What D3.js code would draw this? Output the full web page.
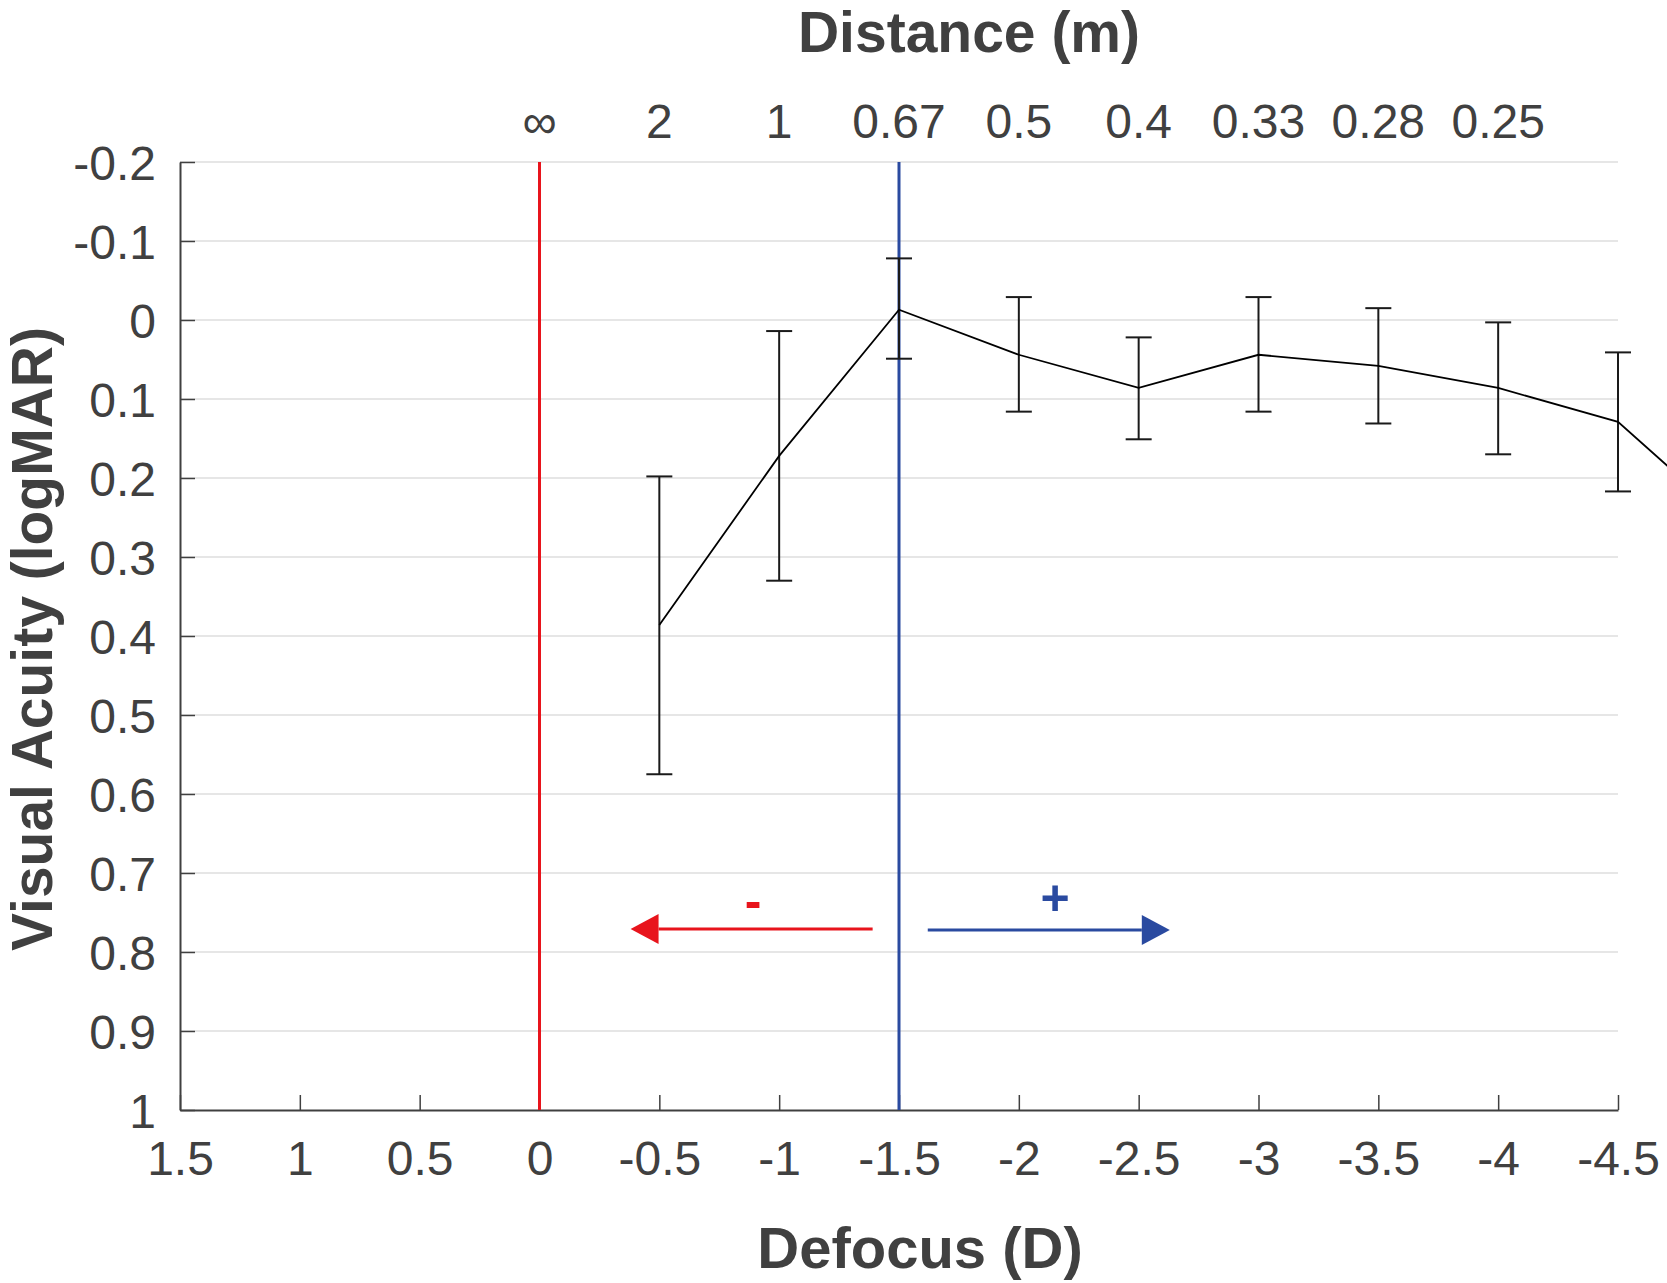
<!DOCTYPE html>
<html>
<head>
<meta charset="utf-8">
<script src="https://cdn.jsdelivr.net/npm/d3@7"></script>
<style>
body { margin: 0; background: #fff; }
text { font-family: "Liberation Sans", Arial, Helvetica, sans-serif; }
</style>
</head>
<body>
<script>
// defocus (D) and mean visual acuity (logMAR) with error bar ends
var defocus = [-0.5, -1, -1.5, -2, -2.5, -3, -3.5, -4, -4.5, -5];
var acuity = [0.386, 0.172, -0.013, 0.044, 0.086, 0.044, 0.058, 0.086, 0.129, 0.264];
var errTop = [0.198, 0.014, -0.078, -0.029, 0.022, -0.029, -0.015, 0.003, 0.041, null];
var errBottom = [0.575, 0.330, 0.049, 0.116, 0.151, 0.116, 0.131, 0.170, 0.217, null];

// top axis: distance in metres above the defocus values
var distDefocus = [0, -0.5, -1, -1.5, -2, -2.5, -3, -3.5, -4];
var distLabels = ["\u221e", "2", "1", "0.67", "0.5", "0.4", "0.33", "0.28", "0.25"];

var xTicks = [1.5, 1, 0.5, 0, -0.5, -1, -1.5, -2, -2.5, -3, -3.5, -4, -4.5];
var yTicks = [-0.2, -0.1, 0, 0.1, 0.2, 0.3, 0.4, 0.5, 0.6, 0.7, 0.8, 0.9, 1];

// arrows: start, tip (defocus), height (logMAR)
var arrowRed = [-1.39, -0.38, 0.771];
var arrowBlue = [-1.62, -2.63, 0.772];

var W = 1667, H = 1283;
var txt = "#404040", red = "#e8141c", blue = "#2a4aa0";

var svg = d3.select("body").append("svg")
	.attr("width", W)
	.attr("height", H);

var x = d3.scaleLinear().domain([1.5, -4.5]).range([180, 1618]);
var y = d3.scaleLinear().domain([-0.2, 1]).range([162, 1110]);

//grid
svg.append("g").selectAll("line")
	.data(yTicks.slice(0, -1))
	.enter().append("line")
	.attr("x1", x(1.5)).attr("x2", x(-4.5))
	.attr("y1", function(d){ return y(d); })
	.attr("y2", function(d){ return y(d); })
	.style("stroke", "#e6e6e6")
	.style("stroke-width", 2);

//axes (plain hyphen as minus sign, like the original)
var fmt = function(d){ return String(+d.toFixed(1)); };
var yAxis = svg.append("g").attr("transform", "translate(" + x(1.5) + ",0)")
	.call(d3.axisLeft(y).tickValues(yTicks).tickFormat(fmt)
		.tickSizeInner(-15).tickSizeOuter(0).tickPadding(24));
var xAxis = svg.append("g").attr("transform", "translate(0," + y(1) + ")")
	.call(d3.axisBottom(x).tickValues(xTicks).tickFormat(fmt)
		.tickSizeInner(-15).tickSizeOuter(0).tickPadding(31));
[yAxis, xAxis].forEach(function(a){
	a.select(".domain").style("stroke", txt).style("stroke-width", 2);
	a.selectAll(".tick line").style("stroke", txt).style("stroke-width", 1.5);
	a.selectAll(".tick text").style("font-size", "48px").style("fill", txt);
});
yAxis.selectAll(".tick text").attr("dy", "0.36em");

//vertical reference lines
svg.append("line")
	.attr("x1", x(0)).attr("x2", x(0))
	.attr("y1", y(-0.2)).attr("y2", y(1))
	.style("stroke", red).style("stroke-width", 3);
svg.append("line")
	.attr("x1", x(-1.5)).attr("x2", x(-1.5))
	.attr("y1", y(-0.2)).attr("y2", y(1))
	.style("stroke", blue).style("stroke-width", 3);

//error bars
var bars = svg.append("g");
defocus.forEach(function(d, i){
	if (errTop[i] === null) return;
	var cx = x(d), y1 = y(errTop[i]), y2 = y(errBottom[i]);
	bars.append("line").attr("x1", cx).attr("x2", cx).attr("y1", y1).attr("y2", y2);
	bars.append("line").attr("x1", cx - 13).attr("x2", cx + 13).attr("y1", y1).attr("y2", y1);
	bars.append("line").attr("x1", cx - 13).attr("x2", cx + 13).attr("y1", y2).attr("y2", y2);
});
bars.selectAll("line").style("stroke", "#1a1a1a").style("stroke-width", 2);

//mean line
var linia = d3.line()
	.x(function(d, i){ return x(defocus[i]); })
	.y(function(d){ return y(d); });
svg.append("path")
	.attr("d", linia(acuity))
	.style("fill", "none")
	.style("stroke", "#000")
	.style("stroke-width", 1.8);

//arrows
function strzalka(a, kolor)
{
	var x0 = x(a[0]), x1 = x(a[1]), yy = y(a[2]);
	var kier = x1 > x0 ? 1 : -1;
	var podstawa = x1 - kier * 28;
	svg.append("line")
		.attr("x1", x0).attr("x2", podstawa)
		.attr("y1", yy).attr("y2", yy)
		.style("stroke", kolor).style("stroke-width", 3);
	svg.append("path")
		.attr("d", "M" + x1 + "," + yy + "L" + podstawa + "," + (yy - 15) + "L" + podstawa + "," + (yy + 15) + "Z")
		.style("fill", kolor);
}
strzalka(arrowRed, red);
strzalka(arrowBlue, blue);

svg.append("text")
	.attr("x", 753).attr("y", 918)
	.attr("text-anchor", "middle")
	.style("font-size", "50px").style("font-weight", "bold").style("fill", red)
	.text("-");
svg.append("text")
	.attr("x", 1055).attr("y", 915)
	.attr("text-anchor", "middle")
	.style("font-size", "50px").style("font-weight", "bold").style("fill", blue)
	.text("+");

//top distance labels
svg.append("g").selectAll("text")
	.data(distLabels)
	.enter().append("text")
	.attr("x", function(d, i){ return x(distDefocus[i]); })
	.attr("y", 138)
	.attr("text-anchor", "middle")
	.style("font-size", "48px").style("fill", txt)
	.text(function(d){ return d; });

//titles
svg.append("text")
	.attr("x", 969).attr("y", 52)
	.attr("text-anchor", "middle")
	.style("font-size", "57px").style("font-weight", "bold").style("fill", txt)
	.text("Distance (m)");
svg.append("text")
	.attr("x", 920).attr("y", 1268)
	.attr("text-anchor", "middle")
	.style("font-size", "58px").style("font-weight", "bold").style("fill", txt)
	.text("Defocus (D)");
svg.append("text")
	.attr("transform", "translate(52,639) rotate(-90)")
	.attr("text-anchor", "middle")
	.style("font-size", "57px").style("font-weight", "bold").style("fill", txt)
	.text("Visual Acuity (logMAR)");
</script>
</body>
</html>
